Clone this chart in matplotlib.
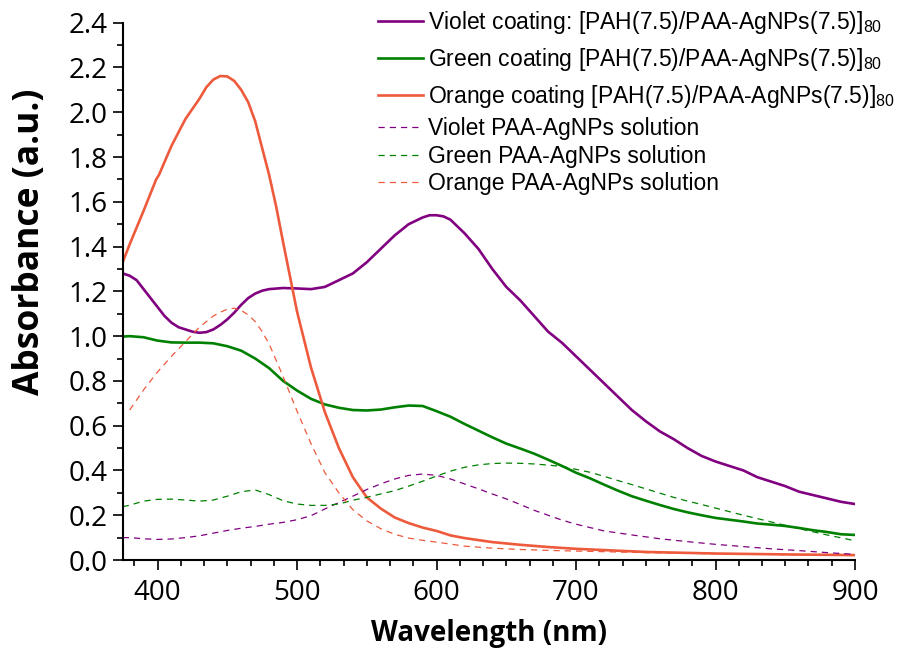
import matplotlib
matplotlib.use("Agg")
import matplotlib.pyplot as plt
from matplotlib.ticker import MultipleLocator, FormatStrFormatter

# Absorption spectra, wavelength in nm
wl_violet = [375, 380, 385, 390, 395, 400, 405, 410, 415, 420, 425, 430, 435,
             440, 445, 450, 455, 460, 465, 470, 475, 480, 490, 500, 510, 520,
             530, 540, 550, 560, 570, 580, 590, 595, 600, 605, 610, 620, 630,
             640, 650, 660, 670, 680, 690, 700, 710, 720, 730, 740, 750, 760,
             770, 780, 790, 800, 810, 820, 830, 840, 850, 860, 870, 880, 890,
             900]
violet_coating = [1.28, 1.27, 1.25, 1.21, 1.17, 1.13, 1.09, 1.06, 1.04, 1.03,
                  1.02, 1.015, 1.018, 1.03, 1.05, 1.075, 1.105, 1.14, 1.17,
                  1.19, 1.203, 1.21, 1.215, 1.213, 1.21, 1.22, 1.25, 1.28,
                  1.33, 1.39, 1.45, 1.50, 1.53, 1.54, 1.54, 1.535, 1.52, 1.46,
                  1.39, 1.30, 1.22, 1.16, 1.09, 1.02, 0.97, 0.91, 0.85, 0.79,
                  0.73, 0.67, 0.62, 0.575, 0.54, 0.50, 0.465, 0.44, 0.42, 0.40,
                  0.37, 0.35, 0.33, 0.305, 0.29, 0.275, 0.26, 0.25]

wl_green = [375, 380, 390, 400, 410, 420, 430, 440, 450, 460, 470, 480, 490,
            500, 510, 520, 530, 540, 550, 560, 570, 580, 590, 600, 610, 620,
            630, 640, 650, 660, 670, 680, 690, 700, 710, 720, 730, 740, 750,
            760, 770, 780, 790, 800, 810, 820, 830, 840, 850, 860, 870, 880,
            890, 900]
green_coating = [0.998, 1.00, 0.995, 0.98, 0.972, 0.971, 0.971, 0.968, 0.955,
                 0.935, 0.90, 0.857, 0.80, 0.757, 0.72, 0.695, 0.68, 0.67,
                 0.668, 0.672, 0.682, 0.69, 0.688, 0.665, 0.64, 0.608, 0.578,
                 0.548, 0.52, 0.498, 0.475, 0.448, 0.42, 0.39, 0.365, 0.337,
                 0.31, 0.285, 0.265, 0.246, 0.228, 0.213, 0.20, 0.188, 0.18,
                 0.172, 0.163, 0.158, 0.152, 0.143, 0.133, 0.125, 0.115, 0.112]

wl_orange = [375, 380, 390, 399, 401, 410, 420, 430, 435, 440, 445, 450, 455,
             460, 465, 470, 475, 480, 485, 490, 500, 510, 520, 530, 540, 550,
             560, 570, 580, 590, 600, 610, 620, 640, 660, 680, 700, 750, 800,
             850, 900]
orange_coating = [1.33, 1.41, 1.56, 1.70, 1.72, 1.85, 1.97, 2.06, 2.112, 2.146,
                  2.162, 2.16, 2.14, 2.10, 2.045, 1.96, 1.84, 1.72, 1.58, 1.42,
                  1.11, 0.86, 0.66, 0.50, 0.37, 0.28, 0.23, 0.19, 0.165, 0.145,
                  0.13, 0.11, 0.098, 0.08, 0.068, 0.058, 0.05, 0.036, 0.029,
                  0.025, 0.022]

wl_violet_sol = [375, 380, 390, 400, 410, 420, 430, 440, 450, 460, 470, 480,
                 490, 500, 510, 520, 530, 540, 550, 560, 570, 580, 590, 600,
                 610, 620, 630, 640, 650, 660, 670, 680, 690, 700, 720, 740,
                 760, 780, 800, 820, 840, 860, 880, 900]
violet_solution = [0.10, 0.10, 0.095, 0.092, 0.094, 0.10, 0.108, 0.12, 0.132,
                   0.142, 0.15, 0.16, 0.168, 0.18, 0.198, 0.228, 0.257, 0.285,
                   0.315, 0.34, 0.362, 0.378, 0.384, 0.378, 0.362, 0.34, 0.318,
                   0.295, 0.273, 0.248, 0.222, 0.20, 0.178, 0.16, 0.13, 0.112,
                   0.095, 0.082, 0.07, 0.06, 0.05, 0.042, 0.033, 0.025]

wl_green_sol = [375, 380, 390, 400, 410, 420, 430, 440, 450, 460, 470, 480,
                490, 500, 510, 520, 530, 540, 550, 560, 570, 580, 590, 600,
                610, 620, 630, 640, 650, 660, 670, 680, 690, 700, 710, 720,
                730, 740, 750, 760, 770, 780, 790, 800, 820, 840, 860, 880, 900]
green_solution = [0.238, 0.245, 0.263, 0.271, 0.272, 0.268, 0.263, 0.268, 0.285,
                  0.305, 0.313, 0.292, 0.265, 0.25, 0.244, 0.244, 0.25, 0.267,
                  0.28, 0.295, 0.31, 0.33, 0.352, 0.375, 0.397, 0.414, 0.425,
                  0.431, 0.433, 0.432, 0.429, 0.424, 0.418, 0.405, 0.392, 0.374,
                  0.355, 0.337, 0.318, 0.299, 0.28, 0.263, 0.248, 0.232, 0.20,
                  0.17, 0.14, 0.112, 0.086]

wl_orange_sol = [380, 390, 400, 410, 420, 430, 440, 445, 450, 455, 460, 465,
                 470, 475, 480, 490, 500, 510, 520, 530, 540, 550, 560, 570,
                 580, 590, 600, 620, 640, 660, 680, 700, 750, 800, 850, 900]
orange_solution = [0.67, 0.76, 0.84, 0.91, 0.975, 1.04, 1.09, 1.107, 1.12,
                   1.125, 1.115, 1.095, 1.065, 1.02, 0.965, 0.82, 0.665, 0.52,
                   0.39, 0.30, 0.225, 0.175, 0.14, 0.115, 0.098, 0.088, 0.08,
                   0.062, 0.053, 0.047, 0.043, 0.04, 0.033, 0.028, 0.024, 0.02]

labels = [
    r"Violet coating: [PAH(7.5)/PAA-AgNPs(7.5)]$_{80}$",
    r"Green coating [PAH(7.5)/PAA-AgNPs(7.5)]$_{80}$",
    r"Orange coating [PAH(7.5)/PAA-AgNPs(7.5)]$_{80}$",
    "Violet PAA-AgNPs solution",
    "Green PAA-AgNPs solution",
    "Orange PAA-AgNPs solution",
]

VIOLET = "#800080"
GREEN = "#008000"
ORANGE = "#EE5A3C"

plt.rcParams["mathtext.fontset"] = "custom"
plt.rcParams["mathtext.rm"] = "Liberation Sans"
plt.rcParams["mathtext.it"] = "Liberation Sans"
plt.rcParams["mathtext.bf"] = "Liberation Sans:bold"

fig = plt.figure(figsize=(9.06, 6.53), dpi=100)
ax = fig.add_axes([0.1354, 0.1424, 0.8083, 0.8228])

lw_solid = 1.9
lw_dash = 0.9
dash = (0, (5, 4))

coat = []
coat += ax.plot(wl_violet, violet_coating, color=VIOLET, lw=lw_solid, label=labels[0])
coat += ax.plot(wl_green, green_coating, color=GREEN, lw=lw_solid, label=labels[1])
coat += ax.plot(wl_orange, orange_coating, color=ORANGE, lw=lw_solid, label=labels[2])
sol = []
sol += ax.plot(wl_violet_sol, violet_solution, color=VIOLET, lw=lw_dash, ls=dash, label=labels[3])
sol += ax.plot(wl_green_sol, green_solution, color=GREEN, lw=lw_dash, ls=dash, label=labels[4])
sol += ax.plot(wl_orange_sol, orange_solution, color=ORANGE, lw=lw_dash, ls=dash, label=labels[5])

ax.set_xlim(375, 900)
ax.set_ylim(0, 2.4)
ax.xaxis.set_major_locator(MultipleLocator(100))
ax.xaxis.set_minor_locator(MultipleLocator(100 / 6))
ax.yaxis.set_major_locator(MultipleLocator(0.2))
ax.yaxis.set_minor_locator(MultipleLocator(0.1))
ax.yaxis.set_major_formatter(FormatStrFormatter("%.1f"))

for side in ("top", "right"):
    ax.spines[side].set_visible(False)
for side in ("left", "bottom"):
    ax.spines[side].set_linewidth(1.5)

ax.tick_params(which="major", direction="out", length=7, width=1.2,
               labelsize=20, pad=4)
ax.tick_params(axis="x", which="major", pad=7)
ax.tick_params(which="minor", direction="out", length=4, width=1.2)
for lab in ax.get_xticklabels() + ax.get_yticklabels():
    lab.set_fontfamily("Open Sans")

ax.set_xlabel("Wavelength (nm)", fontsize=20, fontweight="bold",
              family="Open Sans", labelpad=8)
ax.set_ylabel("Absorbance (a.u.)", fontsize=25.5, fontweight="bold",
              family="Open Sans")
ax.yaxis.set_label_coords(-0.102, 0.592)

leg_kw = dict(loc="upper left", bbox_transform=fig.transFigure, frameon=False,
              prop={"family": "Liberation Sans", "size": 16.5},
              handlelength=1.95, handletextpad=0.22, borderpad=0,
              borderaxespad=0)
leg1 = ax.legend(handles=coat, bbox_to_anchor=(378 / 906, 1 - 9 / 653),
                 labelspacing=0.44, **leg_kw)
ax.add_artist(leg1)
ax.legend(handles=sol, bbox_to_anchor=(378 / 906, 1 - 117 / 653),
          labelspacing=0.2, **leg_kw)

fig.savefig("out.png", dpi=100)
